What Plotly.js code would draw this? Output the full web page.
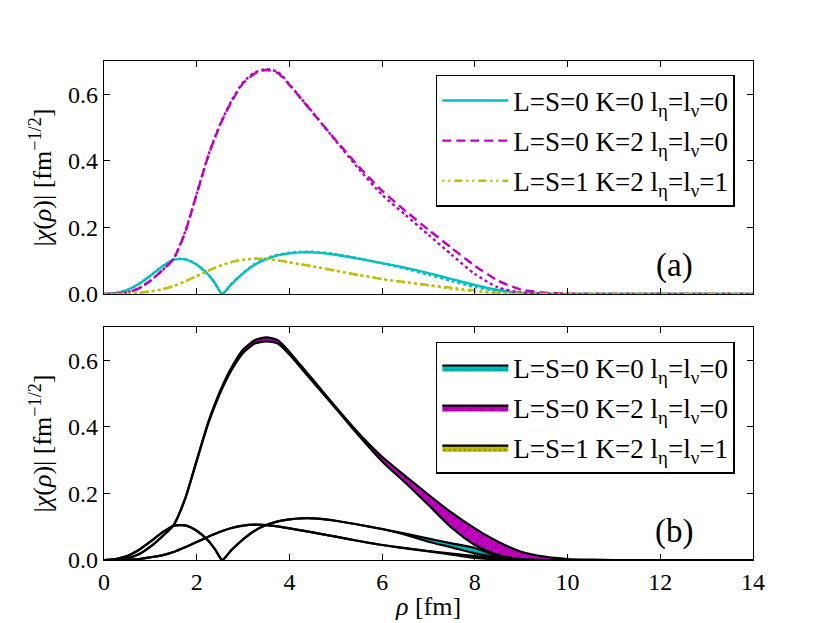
<!DOCTYPE html>
<html>
<head>
<meta charset="utf-8">
<script src="https://cdn.plot.ly/plotly-3.0.1.min.js"></script>
<style>
  body { margin: 0; background: #fff; }
  #chart { width: 830px; height: 623px; }
</style>
</head>
<body>
<div id="chart"></div>
<script>
// radial grid (fm)
const rho = [0, 0.25, 0.5, 0.75, 1.0, 1.25, 1.5, 1.75, 2.0, 2.25, 2.4, 2.55, 2.75, 3.0, 3.25, 3.5, 3.75, 4.0, 4.25, 4.5,
    5.0, 5.5, 6.0, 6.5, 7.0, 7.5, 8.0, 8.5, 9.0, 9.5, 10.0, 10.5, 11.0, 12.0, 13.0, 14.0];

// panel (a): two calculations per channel
const k0_solid = [0, 0.003, 0.012, 0.03, 0.055, 0.082, 0.103, 0.104, 0.088, 0.058, 0.031, 0, 0.03, 0.062, 0.088, 0.105, 0.116, 0.122, 0.125, 0.125,
    0.118, 0.106, 0.093, 0.079, 0.063, 0.045, 0.027, 0.012, 0.004, 0.001, 0, 0, 0, 0, 0, 0];
const k0_dot = [0, 0.003, 0.012, 0.03, 0.055, 0.082, 0.104, 0.105, 0.089, 0.059, 0.032, 0, 0.031, 0.063, 0.09, 0.107, 0.118, 0.124, 0.127, 0.127,
    0.12, 0.107, 0.092, 0.076, 0.058, 0.039, 0.021, 0.008, 0.002, 0, 0, 0, 0, 0, 0, 0];
const k2_dash = [0, 0.001, 0.005, 0.017, 0.04, 0.07, 0.105, 0.185, 0.3, 0.415, 0.472, 0.522, 0.578, 0.633, 0.662, 0.673, 0.664, 0.628, 0.587, 0.545,
    0.462, 0.382, 0.31, 0.25, 0.193, 0.138, 0.085, 0.04, 0.013, 0.004, 0.001, 0, 0, 0, 0, 0];
const k2_dot = [0, 0.001, 0.005, 0.017, 0.04, 0.07, 0.106, 0.187, 0.302, 0.417, 0.474, 0.524, 0.58, 0.636, 0.665, 0.676, 0.667, 0.63, 0.588, 0.546,
    0.46, 0.375, 0.298, 0.238, 0.178, 0.118, 0.06, 0.02, 0.004, 0.001, 0, 0, 0, 0, 0, 0];
const s1_dashdot = [0, 0, 0.001, 0.003, 0.008, 0.014, 0.024, 0.038, 0.054, 0.07, 0.079, 0.087, 0.096, 0.103, 0.106, 0.105, 0.101, 0.095, 0.089, 0.083,
    0.07, 0.057, 0.045, 0.036, 0.027, 0.019, 0.011, 0.004, 0.001, 0, 0, 0, 0, 0, 0, 0];
const s1_dot = [0, 0, 0.001, 0.003, 0.008, 0.014, 0.024, 0.038, 0.054, 0.07, 0.079, 0.087, 0.096, 0.103, 0.106, 0.105, 0.101, 0.095, 0.089, 0.083,
    0.07, 0.057, 0.045, 0.035, 0.026, 0.016, 0.008, 0.002, 0, 0, 0, 0, 0, 0, 0, 0];

// panel (b): bands (upper / lower)
const k0_hi = [0, 0.003, 0.012, 0.03, 0.055, 0.082, 0.103, 0.104, 0.088, 0.058, 0.031, 0, 0.03, 0.062, 0.088, 0.105, 0.116, 0.122, 0.125, 0.125,
    0.118, 0.106, 0.093, 0.079, 0.064, 0.05, 0.036, 0.012, 0.003, 0.001, 0, 0, 0, 0, 0, 0];
const k0_lo = [0, 0.003, 0.012, 0.03, 0.055, 0.082, 0.103, 0.104, 0.088, 0.058, 0.031, 0, 0.03, 0.062, 0.088, 0.105, 0.116, 0.122, 0.125, 0.125,
    0.118, 0.106, 0.093, 0.076, 0.055, 0.038, 0.02, 0.009, 0.002, 0, 0, 0, 0, 0, 0, 0];
const k2_hi = [0, 0.001, 0.005, 0.017, 0.04, 0.07, 0.105, 0.185, 0.3, 0.415, 0.472, 0.522, 0.578, 0.632, 0.66, 0.669, 0.66, 0.625, 0.584, 0.543,
    0.46, 0.38, 0.31, 0.252, 0.196, 0.142, 0.095, 0.055, 0.025, 0.01, 0.003, 0.001, 0, 0, 0, 0];
const k2_lo = [0, 0.001, 0.005, 0.017, 0.04, 0.07, 0.104, 0.183, 0.297, 0.41, 0.466, 0.515, 0.57, 0.622, 0.65, 0.657, 0.65, 0.617, 0.577, 0.536,
    0.455, 0.373, 0.296, 0.232, 0.165, 0.097, 0.045, 0.015, 0.003, 0, 0, 0, 0, 0, 0, 0];
const s1_hi = [0, 0, 0.001, 0.003, 0.008, 0.014, 0.024, 0.038, 0.054, 0.07, 0.079, 0.087, 0.096, 0.103, 0.106, 0.105, 0.101, 0.095, 0.089, 0.083,
    0.07, 0.057, 0.045, 0.036, 0.027, 0.019, 0.012, 0.005, 0.001, 0, 0, 0, 0, 0, 0, 0];
const s1_lo = [0, 0, 0.001, 0.003, 0.008, 0.014, 0.024, 0.038, 0.054, 0.07, 0.079, 0.087, 0.096, 0.103, 0.106, 0.105, 0.101, 0.095, 0.089, 0.083,
    0.07, 0.057, 0.045, 0.035, 0.026, 0.016, 0.006, 0.002, 0, 0, 0, 0, 0, 0, 0, 0];

const labels = [
    "L=S=0 K=0 l<sub>η</sub>=l<sub>ν</sub>=0",
    "L=S=0 K=2 l<sub>η</sub>=l<sub>ν</sub>=0",
    "L=S=1 K=2 l<sub>η</sub>=l<sub>ν</sub>=1"
];

const CYAN = "#00bfbf", MAGENTA = "#bf00bf", YELLOW = "#bfbf00";
const FONT = "Liberation Serif";

const line_trace = (y, color, dash, name, show) => ({
    x: rho, y: y, type: "scatter", mode: "lines", xaxis: "x", yaxis: "y",
    line: {color: color, width: 2.4, dash: dash, shape: "spline", smoothing: 0.6},
    name: name, showlegend: show, legend: "legend", legendgroup: name + "a",
    hoverinfo: "skip"
});

const band_traces = (lo, hi, color, pattern, psize, name) => [
    {
        x: rho, y: lo, type: "scatter", mode: "lines", xaxis: "x2", yaxis: "y2",
        line: {color: "black", width: 2.2, shape: "spline", smoothing: 0.6},
        showlegend: false, hoverinfo: "skip"
    },
    {
        x: rho, y: hi, type: "scatter", mode: "lines", xaxis: "x2", yaxis: "y2",
        line: {color: "black", width: 2.2, shape: "spline", smoothing: 0.6},
        fill: "tonexty", fillcolor: color,
        fillpattern: {shape: pattern, fgcolor: "black", bgcolor: color, size: psize, solidity: 0.1, fillmode: "overlay"},
        name: name, legend: "legend2", legendgroup: name + "b", hoverinfo: "skip"
    }
];

const data = [
    line_trace(k0_dot, CYAN, "dot", labels[0], false),
    line_trace(k0_solid, CYAN, "solid", labels[0], true),
    line_trace(k2_dot, MAGENTA, "dot", labels[1], false),
    line_trace(k2_dash, MAGENTA, "9px,5px", labels[1], true),
    line_trace(s1_dot, YELLOW, "dot", labels[2], false),
    line_trace(s1_dashdot, YELLOW, "2px,4px,2px,4px,8px,4px", labels[2], true),
    ...band_traces(k0_lo, k0_hi, CYAN, "+", 6, labels[0]),
    ...band_traces(k2_lo, k2_hi, MAGENTA, "/", 8, labels[1]),
    ...band_traces(s1_lo, s1_hi, YELLOW, ".", 5, labels[2])
];

const axis_common = {
    range: [0, 14], showgrid: false, zeroline: false, showline: true, linecolor: "black", linewidth: 1.3,
    mirror: "allticks", ticks: "inside", ticklen: 6, tickcolor: "black", tickwidth: 1,
    tickfont: {family: FONT, size: 24, color: "black"}
};

const yaxis_common = Object.assign({}, axis_common, {
    range: [0, 0.7], tickvals: [0, 0.2, 0.4, 0.6], tickformat: ".1f",
    title: {text: "|<i>χ</i>(<i>ρ</i>)| [fm<sup>−1/2</sup>]", font: {family: FONT, size: 26, color: "black"}, standoff: 8}
});

const legend_common = {
    font: {family: FONT, size: 27, color: "black"},
    bgcolor: "white", bordercolor: "black", borderwidth: 1.5,
    xanchor: "right", yanchor: "top", x: 0.972,
    itemwidth: 66,
    traceorder: "grouped", tracegroupgap: 2
};

const layout = {
    width: 830, height: 623,
    margin: {l: 104, r: 77, t: 61, b: 63},
    paper_bgcolor: "white", plot_bgcolor: "white",
    showlegend: true,
    xaxis: Object.assign({}, axis_common, {anchor: "y", showticklabels: false}),
    yaxis: Object.assign({}, yaxis_common, {domain: [0.533, 1]}),
    xaxis2: Object.assign({}, axis_common, {
        anchor: "y2", tickvals: [0, 2, 4, 6, 8, 10, 12, 14],
        title: {text: "<i>ρ</i> [fm]", font: {family: FONT, size: 26, color: "black"}, standoff: 2}
    }),
    yaxis2: Object.assign({}, yaxis_common, {domain: [0, 0.467]}),
    legend: Object.assign({}, legend_common, {y: 0.972}),
    legend2: Object.assign({}, legend_common, {y: 0.437}),
    annotations: [
        {text: "(a)", x: 12.3, y: 0.087, xref: "x", yref: "y", showarrow: false,
            font: {family: FONT, size: 33, color: "black"}},
        {text: "(b)", x: 12.3, y: 0.085, xref: "x2", yref: "y2", showarrow: false,
            font: {family: FONT, size: 33, color: "black"}}
    ]
};

Plotly.newPlot("chart", data, layout, {staticPlot: true});
</script>
</body>
</html>
